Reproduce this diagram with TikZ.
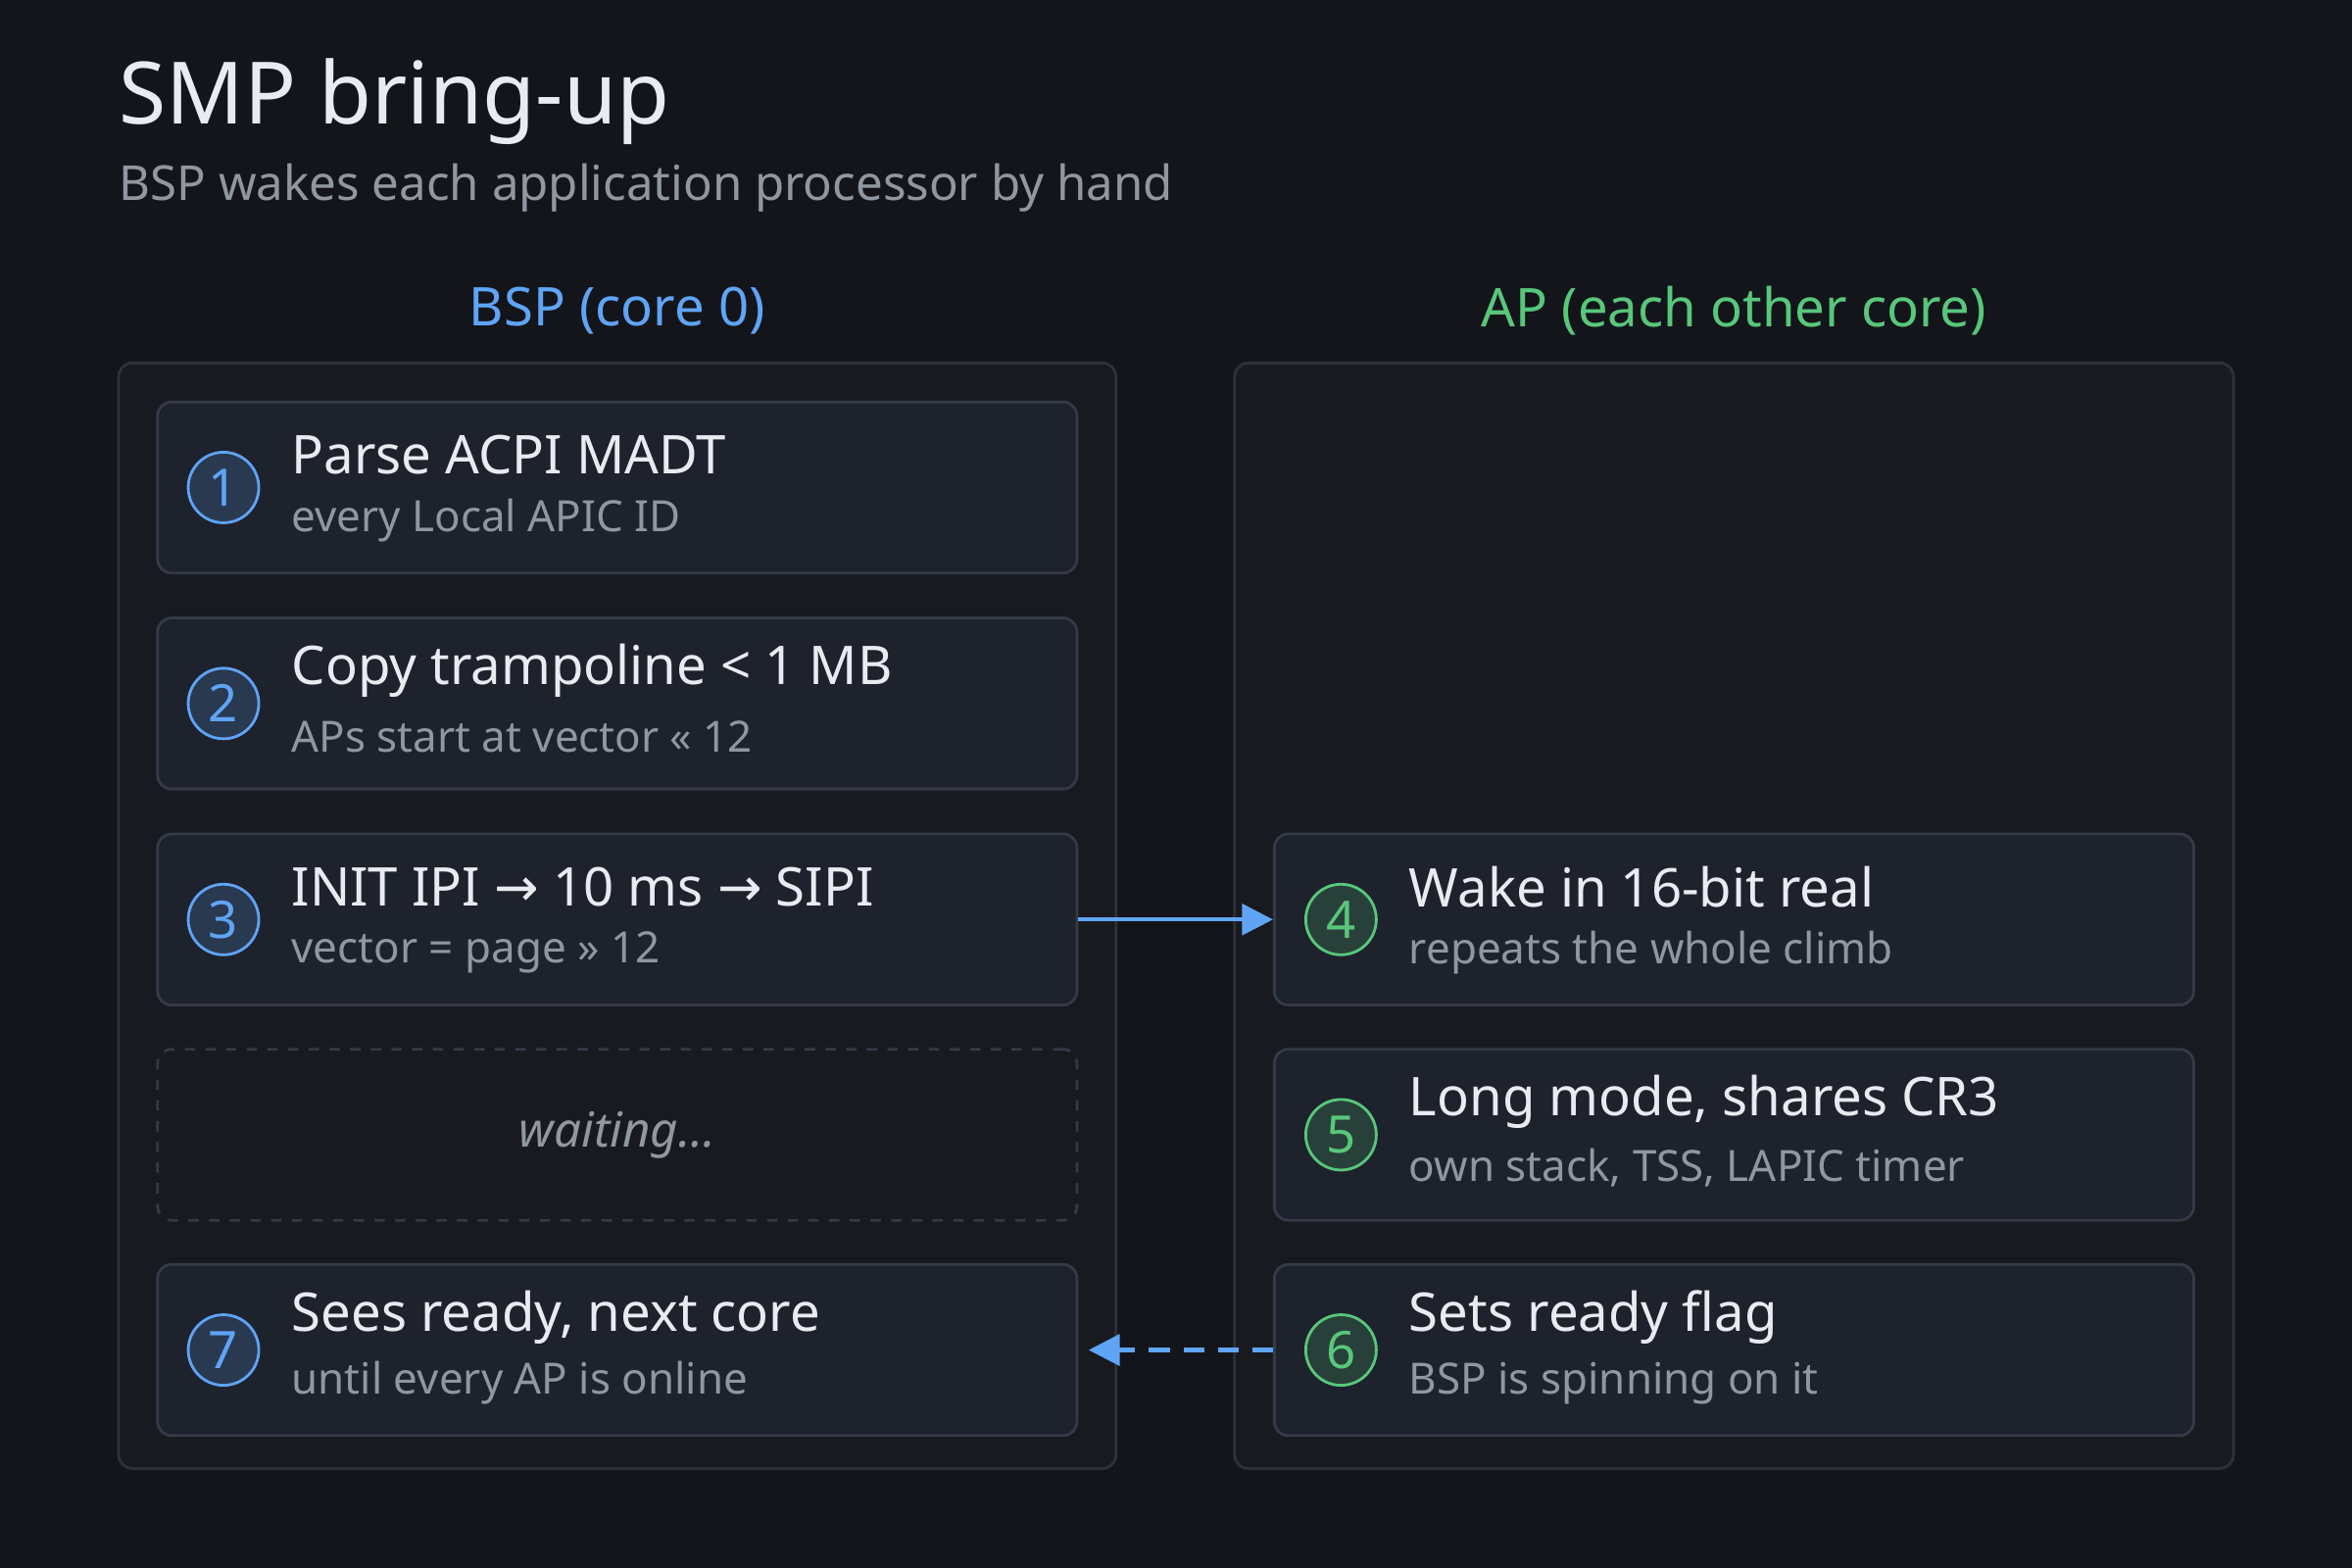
\documentclass[tikz,border=0pt]{standalone}
\usepackage{fontspec}
\setmainfont{Noto Sans}
\usetikzlibrary{positioning,arrows.meta}
\definecolor{bgc}{HTML}{13151B}
\definecolor{panelc}{HTML}{181A20}
\definecolor{panelline}{HTML}{2E3139}
\definecolor{boxc}{HTML}{1D222C}
\definecolor{boxline}{HTML}{343A46}
\definecolor{bspc}{HTML}{5FA4F5}
\definecolor{apc}{HTML}{58C77A}
\definecolor{txtc}{HTML}{E8ECF1}
\definecolor{subc}{HTML}{9097A0}
\begin{document}
\begin{tikzpicture}[x=0.015306cm,y=-0.015306cm]
		% Define styles
		\tikzset{
			panel/.style={draw=panelline, fill=panelc, rounded corners=4pt, line width=0.8pt},
			stepbox/.style={draw=boxline, fill=boxc, rounded corners=4pt, line width=0.8pt,
				minimum width=9.38cm, minimum height=1.745cm},
			waitbox/.style={stepbox, dashed, fill=panelc},
			num/.style={circle, draw=#1, fill=#1!18!boxc, text=#1, line width=0.8pt,
				minimum size=0.72cm, inner sep=0pt, font=\fontsize{15}{15}\selectfont},
			head/.style={anchor=west, text=txtc, inner sep=0pt, font=\fontsize{15.5}{18}\selectfont},
			note/.style={anchor=west, text=subc, inner sep=0pt, font=\fontsize{12.5}{15}\selectfont},
			arrow/.style={draw=bspc, line width=1.2pt, -{Triangle[length=9pt,width=9pt]}}
		}
		% Background
		\fill[bgc] (0,0) rectangle (1568,1045);
		\useasboundingbox (0,0) rectangle (1568,1045);
		
		% Title
		\node[anchor=west, text=txtc, inner sep=0pt, font=\fontsize{25}{30}\selectfont] (title) at (79,68) {SMP bring-up};
		\node[anchor=west, text=subc, inner sep=0pt, font=\fontsize{14}{17}\selectfont] (subtitle) at (79,125) {BSP wakes each application processor by hand};
		
		% Columns
		\node[text=bspc, font=\fontsize{15.5}{18}\selectfont] (bsphead) at (411.5,207) {BSP (core 0)};
		\node[text=apc, font=\fontsize{15.5}{18}\selectfont] (aphead) at (1156,207) {AP (each other core)};
		\draw[panel] (79,242) rectangle (744,979);
		\draw[panel] (823,242) rectangle (1489,979);
		
		% BSP steps
		\node[stepbox] (s1) at (411.5,325) {};
		\node[stepbox] (s2) at (411.5,469) {};
		\node[stepbox] (s3) at (411.5,613) {};
		\node[waitbox] (wait) at (411.5,756.5) {};
		\node[stepbox] (s7) at (411.5,900) {};
		% AP steps
		\node[stepbox] (s4) at (1156,613) {};
		\node[stepbox] (s5) at (1156,756.5) {};
		\node[stepbox] (s6) at (1156,900) {};
		
		\node[text=subc, font=\fontsize{14}{17}\selectfont\itshape] (waittext) at (wait) {waiting…};
		
		% Numbers and texts
		\foreach \n/\y/\h/\s in {1/325/Parse ACPI MADT/every Local APIC ID,
			2/469/Copy trampoline < 1 MB/APs start at vector << 12,
			3/613/INIT IPI {\fontspec{DejaVu Sans}→} 10 ms {\fontspec{DejaVu Sans}→} SIPI/vector = page >> 12,
			7/900/{Sees ready, next core}/until every AP is online}{
			\node[num=bspc] (n\n) at (149,\y) {\n};
			\node[head] (h\n) at (194,\y-22) {\h};
			\node[note] (t\n) at (194,\y+22) {\s};
		}
		\foreach \n/\y/\h/\s in {4/613/Wake in 16-bit real/repeats the whole climb,
			5/756.5/{Long mode, shares CR3}/{own stack, TSS, LAPIC timer},
			6/900/Sets ready flag/BSP is spinning on it}{
			\node[num=apc] (n\n) at (894,\y) {\n};
			\node[head] (h\n) at (939,\y-22) {\h};
			\node[note] (t\n) at (939,\y+22) {\s};
		}
		
		% Draw arrows
		\draw[arrow] (s3.east) -- (s4.west);
		\draw[arrow, dash pattern=on 6pt off 4pt] (s6.west) -- ([xshift=3pt]s7.east);
\end{tikzpicture}
\end{document}
